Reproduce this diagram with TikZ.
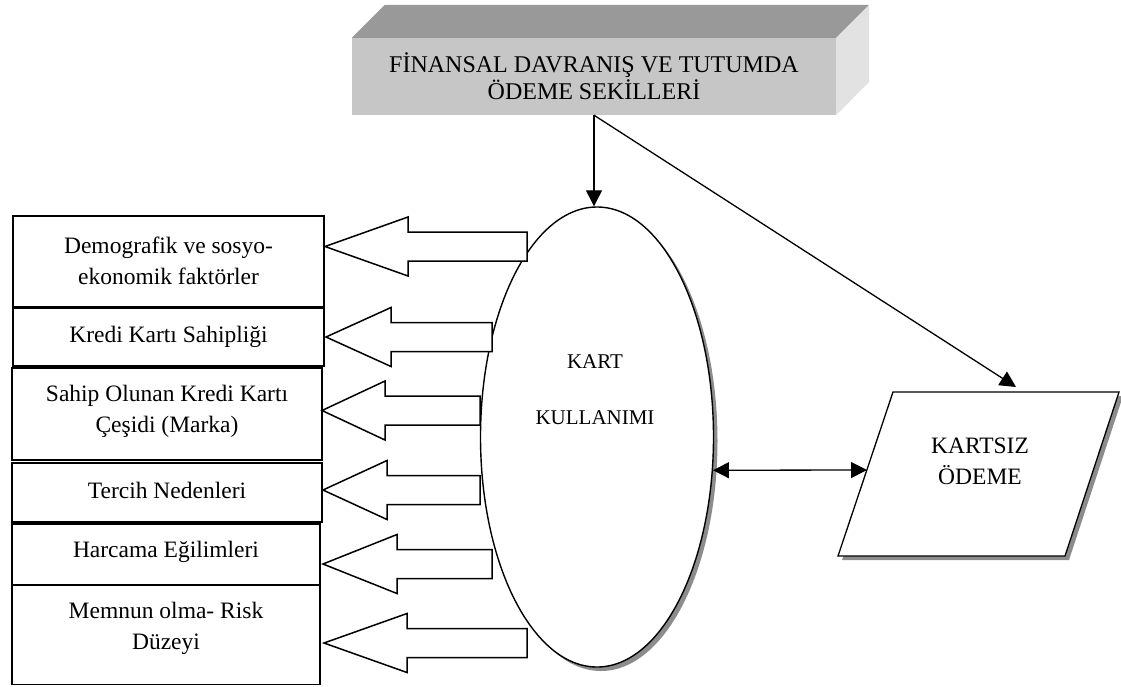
\documentclass[tikz,border=0pt]{standalone}
\usepackage{fontspec}
\setmainfont{Liberation Serif}
\usetikzlibrary{calc,shapes.geometric,arrows.meta,shadows}
\definecolor{facefront}{HTML}{C6C6C6}
\definecolor{facetop}{HTML}{999999}
\definecolor{faceside}{HTML}{E2E2E2}
\begin{document}
\begin{tikzpicture}[x=1pt, y=-1pt,
 box/.style={draw, line width=1.7pt, inner sep=0pt},
 lbl/.style={align=center, inner sep=0pt, font=\fontsize{23.5}{31}\selectfont},
 blk/.style={draw, line width=1.5pt, fill=white, line join=miter},
 con/.style={line width=1.3pt, -{Triangle[length=16pt,width=16pt]}},
 shd/.style={drop shadow={shadow xshift=4pt, shadow yshift=-4pt, fill=gray!90, opacity=1}}]
\useasboundingbox (0,0) rectangle (1121,686);
% title block
\node[fill=facefront, minimum width=484pt, minimum height=77pt, inner sep=0pt, align=center, font=\fontsize{24}{27}\selectfont] (title) at (594,76.5) {FİNANSAL DAVRANIŞ VE TUTUMDA\\ÖDEME SEKİLLERİ};
\fill[facetop] (title.north west) -- ++(33,-33) -- ($(title.north east)+(33,-33)$) -- (title.north east) -- cycle;
\fill[faceside] (title.north east) -- ++(33,-33) -- ++(0,77) -- (title.south east) -- cycle;
% ellipse
\node[ellipse, draw, line width=1.4pt, fill=white, shd, minimum width=233pt, minimum height=460pt, inner sep=0pt] (kart) at (597,437) {};
\node[align=center, font=\fontsize{21}{56}\selectfont] (kart text) at (595,390) {KART\\KULLANIMI};
% left boxes
\node[box, minimum width=311pt, minimum height=91pt] (b1) at (168.5,261.5) {};
\node[box, minimum width=311pt, minimum height=58pt] (b2) at (168.5,337) {};
\node[box, minimum width=310pt, minimum height=92pt] (b3) at (167,414) {};
\node[box, minimum width=310pt, minimum height=59pt] (b4) at (167,492.5) {};
\node[box, minimum width=308pt, minimum height=61pt] (b5) at (166,554.5) {};
\node[box, minimum width=308pt, minimum height=99pt] (b6) at (166,635) {};
\node[lbl] (t1) at (168.5,260.5) {Demografik ve sosyo-\\ekonomik faktörler};
\node[lbl] (t2) at (168.5,337) {Kredi Kartı Sahipliği};
\node[lbl] (t3) at (167,411) {Sahip Olunan Kredi Kartı\\Çeşidi (Marka)};
\node[lbl] (t4) at (167,490) {Tercih Nedenleri};
\node[lbl] (t5) at (166,552) {Harcama Eğilimleri};
\node[lbl] (t6) at (166,628) {Memnun olma- Risk\\Düzeyi};
% block arrows
\foreach \tx/\yy/\bx/\ex in {325/246.5/408/527, 326/337/391/492, 322/410.5/385/480, 323/490/387/480, 323/564/397/492, 324/643/407/527}
 \draw[blk] (\tx,\yy) -- (\bx,\yy-29.5) -- (\bx,\yy-14.5) -- (\ex,\yy-14.5) -- (\ex,\yy+14.5) -- (\bx,\yy+14.5) -- (\bx,\yy+29.5) -- cycle;
% parallelogram
\coordinate (p1) at (893,392);
\coordinate (p2) at (1119,392);
\coordinate (p3) at (1065,556);
\coordinate (p4) at (838,556);
\draw[line width=1.3pt, fill=white, shd] (p1) -- (p2) -- (p3) -- (p4) -- cycle;
\node[lbl] (kartsiz) at (980,461.5) {KARTSIZ\\ÖDEME};
\coordinate (kz west) at (867,470);
\coordinate (kz top) at (1016,387);
% connectors
\draw[con] (title.south) -- (title.south |- kart.north);
\draw[con] (title.south) -- (kz top);
\draw[line width=1.3pt, {Triangle[length=16pt,width=16pt]}-{Triangle[length=16pt,width=16pt]}] (kart.-16) -- (kz west);
\end{tikzpicture}
\end{document}
